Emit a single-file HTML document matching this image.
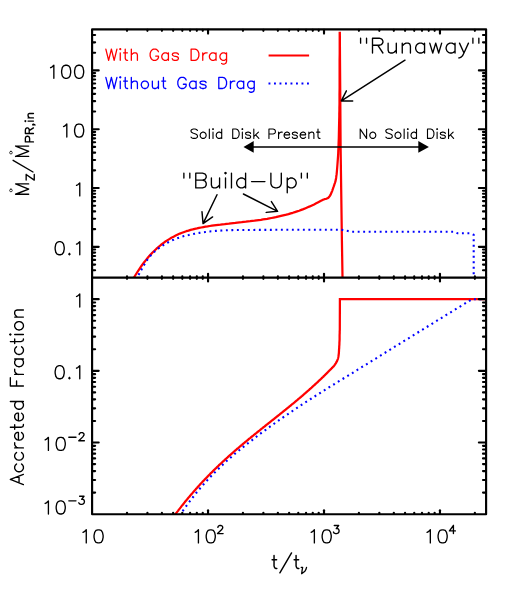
<!DOCTYPE html>
<html><head><meta charset="utf-8"><title>plot</title>
<style>html,body{margin:0;padding:0;background:#fff}svg{display:block}</style></head><body>
<svg width="511" height="591" viewBox="0 0 511 591">
<rect width="511" height="591" fill="#fff"/>
<defs>
<clipPath id="c1"><rect x="92.1" y="31.7" width="394.0" height="245.90000000000003"/></clipPath>
<clipPath id="c2"><rect x="92.1" y="277.6" width="394.0" height="236.60000000000002"/></clipPath>
</defs>
<g clip-path="url(#c1)" fill="none" stroke-linejoin="round">
<polyline points="133.1,279.1 135.2,275.5 137.4,272.0 139.5,268.8 141.6,265.7 143.8,262.8 145.9,260.1 148.0,257.5 150.1,255.1 152.3,252.8 154.4,250.7 156.5,248.7 158.7,246.8 160.8,245.0 162.9,243.4 165.0,241.8 167.2,240.4 169.3,239.1 171.4,237.8 173.6,236.7 175.7,235.6 177.8,234.6 179.9,233.6 182.1,232.8 184.2,232.0 186.3,231.2 188.5,230.6 190.6,229.9 192.7,229.4 194.8,228.8 197.0,228.4 199.1,227.9 201.2,227.5 203.4,227.1 205.5,226.7 207.6,226.4 209.8,226.0 211.9,225.7 214.0,225.4 216.1,225.1 218.3,224.8 220.4,224.6 222.5,224.3 224.7,224.1 226.8,223.8 228.9,223.6 231.0,223.3 233.2,223.1 235.3,222.9 237.4,222.6 239.6,222.4 241.7,222.2 243.8,221.9 245.9,221.7 248.1,221.4 250.2,221.2 252.3,220.9 254.5,220.7 256.6,220.4 258.7,220.1 260.9,219.8 263.0,219.4 265.1,219.1 267.2,218.8 269.4,218.4 271.5,218.0 273.6,217.6 275.8,217.2 277.9,216.7 280.0,216.2 282.1,215.7 284.3,215.2 286.4,214.7 288.5,214.1 290.7,213.4 292.8,212.8 294.9,212.1 297.1,211.4 299.2,210.7 301.3,209.9 303.4,209.1 305.6,208.2 307.7,207.3 309.8,206.4 311.9,205.4 314.1,204.4 316.2,203.3 318.3,202.2 320.5,201.0 323.1,199.7 323.8,199.5 324.5,199.2 325.4,199.0 326.1,198.8 326.7,198.6 327.1,198.4 327.4,198.3 327.7,198.2 327.9,198.1 328.1,197.9 328.4,197.7 328.7,197.4 329.0,197.0 329.3,196.6 329.6,196.2 329.9,195.8 330.2,195.3 330.5,194.8 330.7,194.3 331.0,193.8 331.2,193.2 331.5,192.7 331.7,192.1 331.9,191.5 332.2,190.9 332.4,190.3 332.6,189.6 332.9,189.0 333.1,188.3 333.3,187.6 333.6,186.9 333.8,186.2 334.1,185.5 334.3,184.7 334.6,183.9 334.9,183.1 335.1,182.3 335.4,181.5 335.6,180.5 335.9,179.4 336.1,178.0 336.3,176.3 336.6,174.4 336.8,172.3 337.0,170.0 337.2,167.5 337.4,165.0 337.6,162.4 337.8,159.7 338.0,156.9 338.2,153.9 338.3,150.6 338.5,147.0 338.6,142.9 338.8,138.4 338.9,133.6 339.0,128.8 339.1,124.2 339.2,120.0 339.3,116.5 339.3,113.6 339.4,110.8 339.4,107.9 339.5,104.4 339.5,100.0 339.5,94.4 339.6,87.9 339.6,80.8 339.6,73.5 339.6,66.4 339.6,60.0 339.7,53.8 339.7,47.6 339.7,41.5 339.7,36.0 339.7,31.4 339.8,28.0 340.0,60.0 340.3,100.0 340.6,147.0 341.2,190.0 341.9,240.0 342.5,277.0 342.6,280.0" stroke="#ff0000" stroke-width="2.25"/>
<polyline points="135.8,279.8 137.3,277.3 138.8,274.6 140.3,271.8 141.8,269.0 143.3,266.2 144.9,263.6 146.4,261.1 147.9,259.0 149.4,257.0 150.9,255.3 152.4,253.7 153.9,252.2 155.4,250.9 156.9,249.7 158.4,248.5 160.0,247.4 161.5,246.3 163.0,245.3 164.5,244.4 166.0,243.5 167.5,242.7 169.0,241.9 170.5,241.1 172.0,240.4 173.6,239.8 175.1,239.1 176.6,238.5 178.1,238.0 179.6,237.5 181.1,237.0 182.6,236.5 184.1,236.1 185.6,235.7 187.1,235.3 188.7,235.0 190.2,234.6 191.7,234.3 193.2,234.0 194.7,233.7 196.2,233.4 197.7,233.1 199.2,232.9 200.7,232.7 202.2,232.4 203.8,232.2 205.3,232.0 206.8,231.8 208.3,231.6 209.8,231.5 211.3,231.3 212.8,231.2 214.3,231.0 215.8,230.9 217.3,230.8 218.9,230.7 220.4,230.6 221.9,230.5 223.4,230.4 224.9,230.3 226.4,230.3 227.9,230.2 229.4,230.2 230.9,230.1 232.4,230.1 234.0,230.0 235.5,230.0 237.0,230.0 238.5,230.0 240.0,230.0 300.0,229.7 341.0,229.7 352.0,231.7 453.7,231.8 457.6,233.3 470.1,233.3 473.7,234.8 473.7,279.0" stroke="#0000ff" stroke-width="2.1" stroke-dasharray="1.9 3.6"/>
</g>
<g clip-path="url(#c2)" fill="none" stroke-linejoin="miter">
<polyline points="173.9,516.2 174.2,515.9 174.5,515.4 174.9,514.9 175.4,514.3 175.8,513.7 176.2,513.1 176.6,512.6 177.0,512.1 177.4,511.6 177.8,511.1 178.2,510.6 178.5,510.1 178.9,509.6 179.3,509.1 179.7,508.6 180.1,508.1 180.5,507.6 180.9,507.1 181.2,506.6 181.6,506.1 182.0,505.6 182.4,505.1 182.8,504.7 183.2,504.2 183.6,503.7 184.0,503.2 184.3,502.7 184.7,502.3 185.1,501.8 185.5,501.3 185.9,500.8 186.3,500.4 186.7,499.9 187.0,499.4 187.4,499.0 187.8,498.5 188.2,498.0 188.6,497.6 189.0,497.1 189.4,496.6 189.8,496.2 190.1,495.7 190.5,495.3 190.9,494.8 191.3,494.4 191.7,493.9 192.1,493.5 192.5,493.0 192.8,492.6 193.2,492.1 193.6,491.7 194.0,491.2 194.4,490.8 194.8,490.4 195.2,489.9 195.6,489.5 195.9,489.0 196.3,488.6 196.7,488.2 197.1,487.8 197.5,487.3 197.9,486.9 198.3,486.5 198.6,486.0 199.0,485.6 199.4,485.2 199.8,484.8 200.2,484.3 200.6,483.9 201.0,483.5 201.4,483.1 201.7,482.7 202.1,482.3 202.5,481.8 202.9,481.4 203.3,481.0 203.7,480.6 204.1,480.2 204.4,479.8 204.8,479.4 205.2,479.0 205.6,478.6 206.0,478.2 206.4,477.8 206.8,477.4 207.2,477.0 207.5,476.6 207.9,476.2 208.3,475.8 208.7,475.4 209.1,475.0 209.5,474.6 209.9,474.2 210.2,473.8 210.6,473.4 211.0,473.0 211.4,472.6 211.8,472.3 212.2,471.9 212.6,471.5 213.0,471.1 213.3,470.7 213.7,470.3 214.1,470.0 214.5,469.6 214.9,469.2 215.3,468.8 215.7,468.4 216.1,468.1 216.4,467.7 216.8,467.3 217.2,467.0 217.6,466.6 218.0,466.2 218.4,465.8 218.8,465.5 219.1,465.1 219.5,464.7 219.9,464.4 220.3,464.0 220.7,463.6 221.1,463.3 221.5,462.9 221.9,462.6 222.2,462.2 222.6,461.8 223.0,461.5 223.4,461.1 223.8,460.8 224.2,460.4 224.6,460.1 224.9,459.7 225.3,459.3 225.7,459.0 226.1,458.6 226.5,458.3 226.9,457.9 227.3,457.6 227.7,457.2 228.0,456.9 228.4,456.5 228.8,456.2 229.2,455.8 229.6,455.5 230.0,455.2 230.4,454.8 230.8,454.5 231.1,454.1 231.5,453.8 231.9,453.4 232.3,453.1 232.7,452.8 233.1,452.4 233.5,452.1 233.8,451.7 234.2,451.4 234.6,451.1 235.0,450.7 235.4,450.4 235.8,450.1 236.2,449.7 236.6,449.4 236.9,449.1 237.3,448.7 237.7,448.4 238.1,448.1 238.5,447.8 238.9,447.4 239.3,447.1 239.6,446.8 240.0,446.4 240.4,446.1 240.8,445.8 241.2,445.4 241.6,445.1 242.0,444.8 242.3,444.5 242.7,444.1 243.1,443.8 243.5,443.5 243.9,443.2 244.3,442.9 244.7,442.5 245.1,442.2 245.4,441.9 245.8,441.6 246.2,441.3 246.6,440.9 247.0,440.6 247.4,440.3 247.8,440.0 248.2,439.7 248.5,439.3 248.9,439.0 249.3,438.7 249.7,438.4 250.1,438.1 250.5,437.8 250.9,437.4 251.2,437.1 251.6,436.8 252.0,436.5 252.4,436.2 252.8,435.9 253.2,435.6 253.6,435.2 253.9,434.9 254.3,434.6 254.7,434.3 255.1,434.0 255.5,433.7 255.9,433.4 256.3,433.1 256.7,432.7 257.0,432.4 257.4,432.1 257.8,431.8 258.2,431.5 258.6,431.2 259.0,430.9 259.4,430.6 259.8,430.3 260.1,430.0 260.5,429.6 260.9,429.3 261.3,429.0 261.7,428.7 262.1,428.4 262.5,428.1 262.8,427.8 263.2,427.5 263.6,427.2 264.0,426.9 264.4,426.6 264.8,426.3 265.2,425.9 265.5,425.6 265.9,425.3 266.3,425.0 266.7,424.7 267.1,424.4 267.5,424.1 267.9,423.8 268.3,423.5 268.6,423.2 269.0,422.9 269.4,422.6 269.8,422.3 270.2,422.0 270.6,421.6 271.0,421.3 271.4,421.0 271.7,420.7 272.1,420.4 272.5,420.1 272.9,419.8 273.3,419.5 273.7,419.2 274.1,418.9 274.4,418.6 274.8,418.3 275.2,418.0 275.6,417.6 276.0,417.3 276.4,417.0 276.8,416.7 277.1,416.4 277.5,416.1 277.9,415.8 278.3,415.5 278.7,415.2 279.1,414.9 279.5,414.6 279.9,414.3 280.2,413.9 280.6,413.6 281.0,413.3 281.4,413.0 281.8,412.7 282.2,412.4 282.6,412.1 282.9,411.8 283.3,411.5 283.7,411.1 284.1,410.8 284.5,410.5 284.9,410.2 285.3,409.9 285.7,409.6 286.0,409.3 286.4,409.0 286.8,408.6 287.2,408.3 287.6,408.0 288.0,407.7 288.4,407.4 288.8,407.1 289.1,406.8 289.5,406.4 289.9,406.1 290.3,405.8 290.7,405.5 291.1,405.2 291.5,404.8 291.8,404.5 292.2,404.2 292.6,403.9 293.0,403.6 293.4,403.3 293.8,402.9 294.2,402.6 294.6,402.3 294.9,402.0 295.3,401.6 295.7,401.3 296.1,401.0 296.5,400.7 296.9,400.4 297.3,400.0 297.7,399.7 298.0,399.4 298.4,399.0 298.8,398.7 299.2,398.4 299.6,398.1 300.0,397.7 300.4,397.4 300.7,397.1 301.1,396.8 301.5,396.4 301.9,396.1 302.3,395.8 302.7,395.4 303.1,395.1 303.5,394.8 303.8,394.4 304.2,394.1 304.6,393.7 305.0,393.4 305.4,393.1 305.8,392.7 306.2,392.4 306.5,392.1 306.9,391.7 307.3,391.4 307.7,391.0 308.1,390.7 308.5,390.4 308.9,390.0 309.3,389.7 309.6,389.3 310.0,389.0 310.4,388.6 310.8,388.3 311.2,387.9 311.6,387.6 312.0,387.2 312.3,386.9 312.7,386.5 313.1,386.2 313.5,385.8 313.9,385.5 314.3,385.1 314.7,384.8 315.1,384.4 315.4,384.1 315.8,383.7 316.2,383.4 316.6,383.0 317.0,382.6 317.4,382.3 317.8,381.9 318.1,381.6 318.5,381.2 318.9,380.8 319.3,380.5 319.7,380.1 320.1,379.7 320.5,379.4 320.9,379.0 321.2,378.6 321.6,378.3 322.0,377.9 322.4,377.5 322.8,377.1 323.2,376.8 323.6,376.4 323.9,376.0 324.3,375.6 324.7,375.3 325.1,374.9 325.5,374.5 325.9,374.1 326.3,373.7 326.7,373.4 327.0,373.0 327.4,372.6 327.8,372.2 328.2,371.8 328.6,371.4 329.0,371.0 329.4,370.6 329.7,370.2 330.1,369.9 330.5,369.5 330.9,369.1 331.3,368.7 331.7,368.3 332.1,367.9 332.4,367.5 332.8,367.2 333.2,366.8 333.6,366.4 334.0,365.9 334.4,365.3 334.9,364.6 335.4,363.8 335.9,363.1 336.3,362.4 336.6,361.7 337.0,361.1 337.2,360.6 337.4,360.1 337.6,359.6 337.8,359.1 338.0,358.5 338.1,357.9 338.3,357.3 338.4,356.7 338.5,356.0 338.6,355.3 338.7,354.5 338.8,353.7 338.9,352.9 338.9,352.0 339.0,351.1 339.0,350.1 339.1,349.0 339.2,347.9 339.2,346.8 339.3,345.6 339.4,344.3 339.4,342.9 339.5,341.4 339.6,339.6 339.6,337.5 339.6,335.2 339.7,333.1 339.7,331.3 339.8,330.0 339.9,299.2 486.3,299.2" stroke="#ff0000" stroke-width="2.25"/>
<polyline points="179.5,515.6 182.3,511.5 185.1,507.6 187.9,503.8 190.7,500.1 193.5,496.5 196.2,493.0 199.0,489.6 201.8,486.4 204.6,483.2 207.4,480.1 210.2,477.1 213.0,474.2 215.8,471.4 218.6,468.7 221.4,466.0 224.2,463.4 226.9,460.8 229.7,458.4 232.5,455.9 235.3,453.5 238.1,451.2 240.9,448.9 243.7,446.6 246.5,444.4 249.3,442.2 252.1,440.1 254.9,437.9 257.6,435.8 260.4,433.7 263.2,431.6 266.0,429.6 268.8,427.5 271.6,425.5 274.4,423.5 277.2,421.5 280.0,419.6 282.8,417.6 285.6,415.7 288.4,413.8 291.1,411.9 293.9,410.0 296.7,408.1 299.5,406.3 302.3,404.4 305.1,402.6 307.9,400.8 310.7,399.0 313.5,397.2 316.3,395.4 319.1,393.6 321.9,391.9 324.6,390.1 327.4,388.4 330.2,386.6 333.0,384.9 335.8,383.2 338.6,381.4 341.4,379.7 344.2,378.0 347.0,376.3 349.8,374.6 352.6,372.9 355.3,371.1 358.1,369.4 360.9,367.7 363.7,366.0 366.5,364.3 369.3,362.6 392.2,348.3 471.8,299.3 486.3,299.3" stroke="#0000ff" stroke-width="2.1" stroke-dasharray="1.9 3.6"/>
</g>
<line x1="268.6" y1="55.5" x2="309.1" y2="55.5" stroke="#ff0000" stroke-width="2.2"/>
<line x1="268.5" y1="83.5" x2="309.4" y2="83.5" stroke="#0000ff" stroke-width="2.2" stroke-dasharray="1.9 3.6"/>
<g stroke="#000" stroke-width="2.15" stroke-linecap="round" fill="none">
<rect x="92.1" y="29.3" width="394.0" height="484.90000000000003" stroke-linejoin="round"/>
<line x1="92.1" y1="277.6" x2="486.1" y2="277.6"/>
<line x1="127.01" y1="29.70" x2="127.01" y2="30.80"/>
<line x1="147.42" y1="29.70" x2="147.42" y2="30.80"/>
<line x1="161.91" y1="29.70" x2="161.91" y2="30.80"/>
<line x1="173.15" y1="29.70" x2="173.15" y2="30.80"/>
<line x1="182.33" y1="29.70" x2="182.33" y2="30.80"/>
<line x1="190.09" y1="29.70" x2="190.09" y2="30.80"/>
<line x1="196.82" y1="29.70" x2="196.82" y2="30.80"/>
<line x1="202.75" y1="29.70" x2="202.75" y2="30.80"/>
<line x1="208.05" y1="29.70" x2="208.05" y2="33.60"/>
<line x1="242.96" y1="29.70" x2="242.96" y2="30.80"/>
<line x1="263.38" y1="29.70" x2="263.38" y2="30.80"/>
<line x1="277.86" y1="29.70" x2="277.86" y2="30.80"/>
<line x1="289.10" y1="29.70" x2="289.10" y2="30.80"/>
<line x1="298.28" y1="29.70" x2="298.28" y2="30.80"/>
<line x1="306.04" y1="29.70" x2="306.04" y2="30.80"/>
<line x1="312.77" y1="29.70" x2="312.77" y2="30.80"/>
<line x1="318.70" y1="29.70" x2="318.70" y2="30.80"/>
<line x1="324.01" y1="29.70" x2="324.01" y2="33.60"/>
<line x1="358.91" y1="29.70" x2="358.91" y2="30.80"/>
<line x1="379.33" y1="29.70" x2="379.33" y2="30.80"/>
<line x1="393.82" y1="29.70" x2="393.82" y2="30.80"/>
<line x1="405.05" y1="29.70" x2="405.05" y2="30.80"/>
<line x1="414.23" y1="29.70" x2="414.23" y2="30.80"/>
<line x1="422.00" y1="29.70" x2="422.00" y2="30.80"/>
<line x1="428.72" y1="29.70" x2="428.72" y2="30.80"/>
<line x1="434.65" y1="29.70" x2="434.65" y2="30.80"/>
<line x1="439.96" y1="29.70" x2="439.96" y2="33.60"/>
<line x1="474.86" y1="29.70" x2="474.86" y2="30.80"/>
<line x1="127.01" y1="277.20" x2="127.01" y2="276.40"/>
<line x1="147.42" y1="277.20" x2="147.42" y2="276.40"/>
<line x1="161.91" y1="277.20" x2="161.91" y2="276.40"/>
<line x1="173.15" y1="277.20" x2="173.15" y2="276.40"/>
<line x1="182.33" y1="277.20" x2="182.33" y2="276.40"/>
<line x1="190.09" y1="277.20" x2="190.09" y2="276.40"/>
<line x1="196.82" y1="277.20" x2="196.82" y2="276.40"/>
<line x1="202.75" y1="277.20" x2="202.75" y2="276.40"/>
<line x1="208.05" y1="277.20" x2="208.05" y2="273.80"/>
<line x1="242.96" y1="277.20" x2="242.96" y2="276.40"/>
<line x1="263.38" y1="277.20" x2="263.38" y2="276.40"/>
<line x1="277.86" y1="277.20" x2="277.86" y2="276.40"/>
<line x1="289.10" y1="277.20" x2="289.10" y2="276.40"/>
<line x1="298.28" y1="277.20" x2="298.28" y2="276.40"/>
<line x1="306.04" y1="277.20" x2="306.04" y2="276.40"/>
<line x1="312.77" y1="277.20" x2="312.77" y2="276.40"/>
<line x1="318.70" y1="277.20" x2="318.70" y2="276.40"/>
<line x1="324.01" y1="277.20" x2="324.01" y2="273.80"/>
<line x1="358.91" y1="277.20" x2="358.91" y2="276.40"/>
<line x1="379.33" y1="277.20" x2="379.33" y2="276.40"/>
<line x1="393.82" y1="277.20" x2="393.82" y2="276.40"/>
<line x1="405.05" y1="277.20" x2="405.05" y2="276.40"/>
<line x1="414.23" y1="277.20" x2="414.23" y2="276.40"/>
<line x1="422.00" y1="277.20" x2="422.00" y2="276.40"/>
<line x1="428.72" y1="277.20" x2="428.72" y2="276.40"/>
<line x1="434.65" y1="277.20" x2="434.65" y2="276.40"/>
<line x1="439.96" y1="277.20" x2="439.96" y2="273.80"/>
<line x1="474.86" y1="277.20" x2="474.86" y2="276.40"/>
<line x1="127.01" y1="278.00" x2="127.01" y2="278.80"/>
<line x1="147.42" y1="278.00" x2="147.42" y2="278.80"/>
<line x1="161.91" y1="278.00" x2="161.91" y2="278.80"/>
<line x1="173.15" y1="278.00" x2="173.15" y2="278.80"/>
<line x1="182.33" y1="278.00" x2="182.33" y2="278.80"/>
<line x1="190.09" y1="278.00" x2="190.09" y2="278.80"/>
<line x1="196.82" y1="278.00" x2="196.82" y2="278.80"/>
<line x1="202.75" y1="278.00" x2="202.75" y2="278.80"/>
<line x1="208.05" y1="278.00" x2="208.05" y2="281.40"/>
<line x1="242.96" y1="278.00" x2="242.96" y2="278.80"/>
<line x1="263.38" y1="278.00" x2="263.38" y2="278.80"/>
<line x1="277.86" y1="278.00" x2="277.86" y2="278.80"/>
<line x1="289.10" y1="278.00" x2="289.10" y2="278.80"/>
<line x1="298.28" y1="278.00" x2="298.28" y2="278.80"/>
<line x1="306.04" y1="278.00" x2="306.04" y2="278.80"/>
<line x1="312.77" y1="278.00" x2="312.77" y2="278.80"/>
<line x1="318.70" y1="278.00" x2="318.70" y2="278.80"/>
<line x1="324.01" y1="278.00" x2="324.01" y2="281.40"/>
<line x1="358.91" y1="278.00" x2="358.91" y2="278.80"/>
<line x1="379.33" y1="278.00" x2="379.33" y2="278.80"/>
<line x1="393.82" y1="278.00" x2="393.82" y2="278.80"/>
<line x1="405.05" y1="278.00" x2="405.05" y2="278.80"/>
<line x1="414.23" y1="278.00" x2="414.23" y2="278.80"/>
<line x1="422.00" y1="278.00" x2="422.00" y2="278.80"/>
<line x1="428.72" y1="278.00" x2="428.72" y2="278.80"/>
<line x1="434.65" y1="278.00" x2="434.65" y2="278.80"/>
<line x1="439.96" y1="278.00" x2="439.96" y2="281.40"/>
<line x1="474.86" y1="278.00" x2="474.86" y2="278.80"/>
<line x1="127.01" y1="513.80" x2="127.01" y2="512.80"/>
<line x1="147.42" y1="513.80" x2="147.42" y2="512.80"/>
<line x1="161.91" y1="513.80" x2="161.91" y2="512.80"/>
<line x1="173.15" y1="513.80" x2="173.15" y2="512.80"/>
<line x1="182.33" y1="513.80" x2="182.33" y2="512.80"/>
<line x1="190.09" y1="513.80" x2="190.09" y2="512.80"/>
<line x1="196.82" y1="513.80" x2="196.82" y2="512.80"/>
<line x1="202.75" y1="513.80" x2="202.75" y2="512.80"/>
<line x1="208.05" y1="513.80" x2="208.05" y2="510.30"/>
<line x1="242.96" y1="513.80" x2="242.96" y2="512.80"/>
<line x1="263.38" y1="513.80" x2="263.38" y2="512.80"/>
<line x1="277.86" y1="513.80" x2="277.86" y2="512.80"/>
<line x1="289.10" y1="513.80" x2="289.10" y2="512.80"/>
<line x1="298.28" y1="513.80" x2="298.28" y2="512.80"/>
<line x1="306.04" y1="513.80" x2="306.04" y2="512.80"/>
<line x1="312.77" y1="513.80" x2="312.77" y2="512.80"/>
<line x1="318.70" y1="513.80" x2="318.70" y2="512.80"/>
<line x1="324.01" y1="513.80" x2="324.01" y2="510.30"/>
<line x1="358.91" y1="513.80" x2="358.91" y2="512.80"/>
<line x1="379.33" y1="513.80" x2="379.33" y2="512.80"/>
<line x1="393.82" y1="513.80" x2="393.82" y2="512.80"/>
<line x1="405.05" y1="513.80" x2="405.05" y2="512.80"/>
<line x1="414.23" y1="513.80" x2="414.23" y2="512.80"/>
<line x1="422.00" y1="513.80" x2="422.00" y2="512.80"/>
<line x1="428.72" y1="513.80" x2="428.72" y2="512.80"/>
<line x1="434.65" y1="513.80" x2="434.65" y2="512.80"/>
<line x1="439.96" y1="513.80" x2="439.96" y2="510.30"/>
<line x1="474.86" y1="513.80" x2="474.86" y2="512.80"/>
<line x1="92.5" y1="270.25" x2="95.1" y2="270.25"/>
<line x1="485.70000000000005" y1="270.25" x2="483.0" y2="270.25"/>
<line x1="92.5" y1="264.55" x2="95.1" y2="264.55"/>
<line x1="485.70000000000005" y1="264.55" x2="483.0" y2="264.55"/>
<line x1="92.5" y1="259.90" x2="95.1" y2="259.90"/>
<line x1="485.70000000000005" y1="259.90" x2="483.0" y2="259.90"/>
<line x1="92.5" y1="255.96" x2="95.1" y2="255.96"/>
<line x1="485.70000000000005" y1="255.96" x2="483.0" y2="255.96"/>
<line x1="92.5" y1="252.55" x2="95.1" y2="252.55"/>
<line x1="485.70000000000005" y1="252.55" x2="483.0" y2="252.55"/>
<line x1="92.5" y1="249.54" x2="95.1" y2="249.54"/>
<line x1="485.70000000000005" y1="249.54" x2="483.0" y2="249.54"/>
<line x1="92.5" y1="246.85" x2="98.69999999999999" y2="246.85"/>
<line x1="485.70000000000005" y1="246.85" x2="478.9" y2="246.85"/>
<line x1="92.5" y1="229.14" x2="95.1" y2="229.14"/>
<line x1="485.70000000000005" y1="229.14" x2="483.0" y2="229.14"/>
<line x1="92.5" y1="218.79" x2="95.1" y2="218.79"/>
<line x1="485.70000000000005" y1="218.79" x2="483.0" y2="218.79"/>
<line x1="92.5" y1="211.44" x2="95.1" y2="211.44"/>
<line x1="485.70000000000005" y1="211.44" x2="483.0" y2="211.44"/>
<line x1="92.5" y1="205.74" x2="95.1" y2="205.74"/>
<line x1="485.70000000000005" y1="205.74" x2="483.0" y2="205.74"/>
<line x1="92.5" y1="201.08" x2="95.1" y2="201.08"/>
<line x1="485.70000000000005" y1="201.08" x2="483.0" y2="201.08"/>
<line x1="92.5" y1="197.15" x2="95.1" y2="197.15"/>
<line x1="485.70000000000005" y1="197.15" x2="483.0" y2="197.15"/>
<line x1="92.5" y1="193.73" x2="95.1" y2="193.73"/>
<line x1="485.70000000000005" y1="193.73" x2="483.0" y2="193.73"/>
<line x1="92.5" y1="190.73" x2="95.1" y2="190.73"/>
<line x1="485.70000000000005" y1="190.73" x2="483.0" y2="190.73"/>
<line x1="92.5" y1="188.03" x2="98.69999999999999" y2="188.03"/>
<line x1="485.70000000000005" y1="188.03" x2="478.9" y2="188.03"/>
<line x1="92.5" y1="170.33" x2="95.1" y2="170.33"/>
<line x1="485.70000000000005" y1="170.33" x2="483.0" y2="170.33"/>
<line x1="92.5" y1="159.97" x2="95.1" y2="159.97"/>
<line x1="485.70000000000005" y1="159.97" x2="483.0" y2="159.97"/>
<line x1="92.5" y1="152.63" x2="95.1" y2="152.63"/>
<line x1="485.70000000000005" y1="152.63" x2="483.0" y2="152.63"/>
<line x1="92.5" y1="146.93" x2="95.1" y2="146.93"/>
<line x1="485.70000000000005" y1="146.93" x2="483.0" y2="146.93"/>
<line x1="92.5" y1="142.27" x2="95.1" y2="142.27"/>
<line x1="485.70000000000005" y1="142.27" x2="483.0" y2="142.27"/>
<line x1="92.5" y1="138.33" x2="95.1" y2="138.33"/>
<line x1="485.70000000000005" y1="138.33" x2="483.0" y2="138.33"/>
<line x1="92.5" y1="134.92" x2="95.1" y2="134.92"/>
<line x1="485.70000000000005" y1="134.92" x2="483.0" y2="134.92"/>
<line x1="92.5" y1="131.91" x2="95.1" y2="131.91"/>
<line x1="485.70000000000005" y1="131.91" x2="483.0" y2="131.91"/>
<line x1="92.5" y1="129.22" x2="98.69999999999999" y2="129.22"/>
<line x1="485.70000000000005" y1="129.22" x2="478.9" y2="129.22"/>
<line x1="92.5" y1="111.52" x2="95.1" y2="111.52"/>
<line x1="485.70000000000005" y1="111.52" x2="483.0" y2="111.52"/>
<line x1="92.5" y1="101.16" x2="95.1" y2="101.16"/>
<line x1="485.70000000000005" y1="101.16" x2="483.0" y2="101.16"/>
<line x1="92.5" y1="93.81" x2="95.1" y2="93.81"/>
<line x1="485.70000000000005" y1="93.81" x2="483.0" y2="93.81"/>
<line x1="92.5" y1="88.11" x2="95.1" y2="88.11"/>
<line x1="485.70000000000005" y1="88.11" x2="483.0" y2="88.11"/>
<line x1="92.5" y1="83.46" x2="95.1" y2="83.46"/>
<line x1="485.70000000000005" y1="83.46" x2="483.0" y2="83.46"/>
<line x1="92.5" y1="79.52" x2="95.1" y2="79.52"/>
<line x1="485.70000000000005" y1="79.52" x2="483.0" y2="79.52"/>
<line x1="92.5" y1="76.11" x2="95.1" y2="76.11"/>
<line x1="485.70000000000005" y1="76.11" x2="483.0" y2="76.11"/>
<line x1="92.5" y1="73.10" x2="95.1" y2="73.10"/>
<line x1="485.70000000000005" y1="73.10" x2="483.0" y2="73.10"/>
<line x1="92.5" y1="70.41" x2="98.69999999999999" y2="70.41"/>
<line x1="485.70000000000005" y1="70.41" x2="478.9" y2="70.41"/>
<line x1="92.5" y1="52.70" x2="95.1" y2="52.70"/>
<line x1="485.70000000000005" y1="52.70" x2="483.0" y2="52.70"/>
<line x1="92.5" y1="42.35" x2="95.1" y2="42.35"/>
<line x1="485.70000000000005" y1="42.35" x2="483.0" y2="42.35"/>
<line x1="92.5" y1="35.00" x2="95.1" y2="35.00"/>
<line x1="485.70000000000005" y1="35.00" x2="483.0" y2="35.00"/>
<line x1="92.5" y1="492.62" x2="95.1" y2="492.62"/>
<line x1="485.70000000000005" y1="492.62" x2="483.0" y2="492.62"/>
<line x1="92.5" y1="480.00" x2="95.1" y2="480.00"/>
<line x1="485.70000000000005" y1="480.00" x2="483.0" y2="480.00"/>
<line x1="92.5" y1="471.05" x2="95.1" y2="471.05"/>
<line x1="485.70000000000005" y1="471.05" x2="483.0" y2="471.05"/>
<line x1="92.5" y1="464.10" x2="95.1" y2="464.10"/>
<line x1="485.70000000000005" y1="464.10" x2="483.0" y2="464.10"/>
<line x1="92.5" y1="458.43" x2="95.1" y2="458.43"/>
<line x1="485.70000000000005" y1="458.43" x2="483.0" y2="458.43"/>
<line x1="92.5" y1="453.63" x2="95.1" y2="453.63"/>
<line x1="485.70000000000005" y1="453.63" x2="483.0" y2="453.63"/>
<line x1="92.5" y1="449.47" x2="95.1" y2="449.47"/>
<line x1="485.70000000000005" y1="449.47" x2="483.0" y2="449.47"/>
<line x1="92.5" y1="445.81" x2="95.1" y2="445.81"/>
<line x1="485.70000000000005" y1="445.81" x2="483.0" y2="445.81"/>
<line x1="92.5" y1="442.53" x2="98.69999999999999" y2="442.53"/>
<line x1="485.70000000000005" y1="442.53" x2="478.9" y2="442.53"/>
<line x1="92.5" y1="420.95" x2="95.1" y2="420.95"/>
<line x1="485.70000000000005" y1="420.95" x2="483.0" y2="420.95"/>
<line x1="92.5" y1="408.33" x2="95.1" y2="408.33"/>
<line x1="485.70000000000005" y1="408.33" x2="483.0" y2="408.33"/>
<line x1="92.5" y1="399.37" x2="95.1" y2="399.37"/>
<line x1="485.70000000000005" y1="399.37" x2="483.0" y2="399.37"/>
<line x1="92.5" y1="392.43" x2="95.1" y2="392.43"/>
<line x1="485.70000000000005" y1="392.43" x2="483.0" y2="392.43"/>
<line x1="92.5" y1="386.75" x2="95.1" y2="386.75"/>
<line x1="485.70000000000005" y1="386.75" x2="483.0" y2="386.75"/>
<line x1="92.5" y1="381.95" x2="95.1" y2="381.95"/>
<line x1="485.70000000000005" y1="381.95" x2="483.0" y2="381.95"/>
<line x1="92.5" y1="377.80" x2="95.1" y2="377.80"/>
<line x1="485.70000000000005" y1="377.80" x2="483.0" y2="377.80"/>
<line x1="92.5" y1="374.13" x2="95.1" y2="374.13"/>
<line x1="485.70000000000005" y1="374.13" x2="483.0" y2="374.13"/>
<line x1="92.5" y1="370.85" x2="98.69999999999999" y2="370.85"/>
<line x1="485.70000000000005" y1="370.85" x2="478.9" y2="370.85"/>
<line x1="92.5" y1="349.27" x2="95.1" y2="349.27"/>
<line x1="485.70000000000005" y1="349.27" x2="483.0" y2="349.27"/>
<line x1="92.5" y1="336.65" x2="95.1" y2="336.65"/>
<line x1="485.70000000000005" y1="336.65" x2="483.0" y2="336.65"/>
<line x1="92.5" y1="327.70" x2="95.1" y2="327.70"/>
<line x1="485.70000000000005" y1="327.70" x2="483.0" y2="327.70"/>
<line x1="92.5" y1="320.75" x2="95.1" y2="320.75"/>
<line x1="485.70000000000005" y1="320.75" x2="483.0" y2="320.75"/>
<line x1="92.5" y1="315.08" x2="95.1" y2="315.08"/>
<line x1="485.70000000000005" y1="315.08" x2="483.0" y2="315.08"/>
<line x1="92.5" y1="310.28" x2="95.1" y2="310.28"/>
<line x1="485.70000000000005" y1="310.28" x2="483.0" y2="310.28"/>
<line x1="92.5" y1="306.12" x2="95.1" y2="306.12"/>
<line x1="485.70000000000005" y1="306.12" x2="483.0" y2="306.12"/>
<line x1="92.5" y1="302.46" x2="95.1" y2="302.46"/>
<line x1="485.70000000000005" y1="302.46" x2="483.0" y2="302.46"/>
<line x1="92.5" y1="299.18" x2="98.69999999999999" y2="299.18"/>
<line x1="485.70000000000005" y1="299.18" x2="478.9" y2="299.18"/>
</g>
<g stroke="#000" stroke-width="1.45" fill="none" stroke-linecap="round" stroke-linejoin="round">
<path d="M405,60.2 L341.3,100.95 M346.4,90.8 L341.3,100.95 L352.7,100.95"/>
<path d="M217,194.7 L203.05,223.6 M202.0,211.7 L203.05,223.6 L212.6,216.9"/>
<path d="M243.4,194 L277.6,211.3 M271.4,201.6 L277.6,211.3 L266.2,212.4"/>
<path d="M250,146.9 L422,146.9"/>
</g>
<path d="M243.5,146.9 L253.7,141.1 L253.7,152.8 Z" fill="#000"/>
<path d="M428.9,146.9 L418.3,141.0 L418.3,152.8 Z" fill="#000"/>
<path d="M50.61,67.73 L51.90,67.11 L53.85,65.25 L53.85,78.31 M65.51,65.25 L63.57,65.87 L62.27,67.73 L61.62,70.84 L61.62,72.71 L62.27,75.82 L63.57,77.69 L65.51,78.31 L66.81,78.31 L68.75,77.69 L70.05,75.82 L70.70,72.71 L70.70,70.84 L70.05,67.73 L68.75,65.87 L66.81,65.25 L65.51,65.25 M78.47,65.25 L76.53,65.87 L75.23,67.73 L74.58,70.84 L74.58,72.71 L75.23,75.82 L76.53,77.69 L78.47,78.31 L79.77,78.31 L81.71,77.69 L83.01,75.82 L83.66,72.71 L83.66,70.84 L83.01,67.73 L81.71,65.87 L79.77,65.25 L78.47,65.25 M63.57,126.55 L64.86,125.93 L66.81,124.06 L66.81,137.12 M78.47,124.06 L76.53,124.68 L75.23,126.55 L74.58,129.66 L74.58,131.52 L75.23,134.63 L76.53,136.50 L78.47,137.12 L79.77,137.12 L81.71,136.50 L83.01,134.63 L83.66,131.52 L83.66,129.66 L83.01,126.55 L81.71,124.68 L79.77,124.06 L78.47,124.06 M76.53,185.36 L77.82,184.74 L79.77,182.87 L79.77,195.93 M59.03,241.69 L57.09,242.31 L55.79,244.17 L55.14,247.28 L55.14,249.15 L55.79,252.26 L57.09,254.13 L59.03,254.75 L60.33,254.75 L62.27,254.13 L63.57,252.26 L64.22,249.15 L64.22,247.28 L63.57,244.17 L62.27,242.31 L60.33,241.69 L59.03,241.69 M69.40,253.50 L68.75,254.13 L69.40,254.75 L70.05,254.13 L69.40,253.50 M76.53,244.17 L77.82,243.55 L79.77,241.69 L79.77,254.75 M76.53,296.50 L77.82,295.88 L79.77,294.01 L79.77,307.08 M59.03,365.69 L57.09,366.31 L55.79,368.18 L55.14,371.29 L55.14,373.15 L55.79,376.26 L57.09,378.13 L59.03,378.75 L60.33,378.75 L62.27,378.13 L63.57,376.26 L64.22,373.15 L64.22,371.29 L63.57,368.18 L62.27,366.31 L60.33,365.69 L59.03,365.69 M69.40,377.51 L68.75,378.13 L69.40,378.75 L70.05,378.13 L69.40,377.51 M76.53,368.18 L77.82,367.55 L79.77,365.69 L79.77,378.75 M45.17,439.85 L46.46,439.23 L48.41,437.36 L48.41,450.43 M60.07,437.36 L58.13,437.99 L56.83,439.85 L56.18,442.96 L56.18,444.83 L56.83,447.94 L58.13,449.80 L60.07,450.43 L61.37,450.43 L63.31,449.80 L64.61,447.94 L65.26,444.83 L65.26,442.96 L64.61,439.85 L63.31,437.99 L61.37,437.36 L60.07,437.36 M68.80,437.26 L76.00,437.26 M79.20,434.57 L79.20,434.18 L79.60,433.41 L80.00,433.03 L80.80,432.64 L82.40,432.64 L83.20,433.03 L83.60,433.41 L84.00,434.18 L84.00,434.95 L83.60,435.72 L82.80,436.88 L78.80,440.73 L84.40,440.73 M45.17,503.43 L46.46,502.80 L48.41,500.94 L48.41,514.00 M60.07,500.94 L58.13,501.56 L56.83,503.43 L56.18,506.54 L56.18,508.40 L56.83,511.51 L58.13,513.38 L60.07,514.00 L61.37,514.00 L63.31,513.38 L64.61,511.51 L65.26,508.40 L65.26,506.54 L64.61,503.43 L63.31,501.56 L61.37,500.94 L60.07,500.94 M68.80,500.84 L76.00,500.84 M79.60,496.22 L84.00,496.22 L81.60,499.30 L82.80,499.30 L83.60,499.68 L84.00,500.06 L84.40,501.22 L84.40,501.99 L84.00,503.15 L83.20,503.92 L82.00,504.30 L80.80,504.30 L79.60,503.92 L79.20,503.53 L78.80,502.76 M83.03,532.33 L84.32,531.70 L86.27,529.84 L86.27,542.90 M97.93,529.84 L95.99,530.46 L94.69,532.33 L94.04,535.44 L94.04,537.30 L94.69,540.41 L95.99,542.28 L97.93,542.90 L99.23,542.90 L101.17,542.28 L102.47,540.41 L103.12,537.30 L103.12,535.44 L102.47,532.33 L101.17,530.46 L99.23,529.84 L97.93,529.84 M195.18,532.33 L196.48,531.70 L198.42,529.84 L198.42,542.90 M210.08,529.84 L208.14,530.46 L206.84,532.33 L206.20,535.44 L206.20,537.30 L206.84,540.41 L208.14,542.28 L210.08,542.90 L211.38,542.90 L213.32,542.28 L214.62,540.41 L215.27,537.30 L215.27,535.44 L214.62,532.33 L213.32,530.46 L211.38,529.84 L210.08,529.84 M217.91,527.44 L217.91,527.06 L218.31,526.28 L218.71,525.90 L219.51,525.51 L221.11,525.51 L221.91,525.90 L222.31,526.28 L222.71,527.06 L222.71,527.83 L222.31,528.60 L221.51,529.75 L217.51,533.60 L223.11,533.60 M311.13,532.33 L312.43,531.70 L314.37,529.84 L314.37,542.90 M326.04,529.84 L324.09,530.46 L322.80,532.33 L322.15,535.44 L322.15,537.30 L322.80,540.41 L324.09,542.28 L326.04,542.90 L327.33,542.90 L329.28,542.28 L330.57,540.41 L331.22,537.30 L331.22,535.44 L330.57,532.33 L329.28,530.46 L327.33,529.84 L326.04,529.84 M334.27,525.51 L338.67,525.51 L336.27,528.60 L337.47,528.60 L338.27,528.98 L338.67,529.37 L339.07,530.52 L339.07,531.29 L338.67,532.45 L337.87,533.22 L336.67,533.60 L335.47,533.60 L334.27,533.22 L333.87,532.83 L333.47,532.06 M427.09,532.33 L428.38,531.70 L430.33,529.84 L430.33,542.90 M441.99,529.84 L440.05,530.46 L438.75,532.33 L438.10,535.44 L438.10,537.30 L438.75,540.41 L440.05,542.28 L441.99,542.90 L443.29,542.90 L445.23,542.28 L446.53,540.41 L447.17,537.30 L447.17,535.44 L446.53,532.33 L445.23,530.46 L443.29,529.84 L441.99,529.84 M453.42,525.51 L449.42,530.90 L455.42,530.90 M453.42,525.51 L453.42,533.60 M360.60,38.20 L360.60,43.13 M366.55,38.20 L366.55,43.13 M372.50,38.20 L372.50,53.00 M372.50,38.20 L379.20,38.20 L381.43,38.90 L382.17,39.61 L382.91,41.02 L382.91,42.42 L382.17,43.84 L381.43,44.54 L379.20,45.24 L372.50,45.24 M377.71,45.24 L382.91,53.00 M388.12,43.13 L388.12,50.18 L388.86,52.30 L390.35,53.00 L392.58,53.00 L394.07,52.30 L396.30,50.18 M396.30,43.13 L396.30,53.00 M402.25,43.13 L402.25,53.00 M402.25,45.95 L404.48,43.84 L405.97,43.13 L408.20,43.13 L409.69,43.84 L410.43,45.95 L410.43,53.00 M424.56,43.13 L424.56,53.00 M424.56,45.24 L423.07,43.84 L421.59,43.13 L419.35,43.13 L417.87,43.84 L416.38,45.24 L415.64,47.36 L415.64,48.77 L416.38,50.88 L417.87,52.30 L419.35,53.00 L421.59,53.00 L423.07,52.30 L424.56,50.88 M429.77,43.13 L432.74,53.00 M435.72,43.13 L432.74,53.00 M435.72,43.13 L438.69,53.00 M441.67,43.13 L438.69,53.00 M455.05,43.13 L455.05,53.00 M455.05,45.24 L453.57,43.84 L452.08,43.13 L449.85,43.13 L448.36,43.84 L446.87,45.24 L446.13,47.36 L446.13,48.77 L446.87,50.88 L448.36,52.30 L449.85,53.00 L452.08,53.00 L453.57,52.30 L455.05,50.88 M459.51,43.13 L463.98,53.00 M468.44,43.13 L463.98,53.00 L462.49,55.82 L461.00,57.23 L459.51,57.94 L458.77,57.94 M472.90,38.20 L472.90,43.13 M478.85,38.20 L478.85,43.13 M183.88,173.09 L183.88,178.03 M189.82,173.09 L189.82,178.03 M195.77,173.09 L195.77,187.90 M195.77,173.09 L202.47,173.09 L204.70,173.80 L205.44,174.50 L206.19,175.92 L206.19,177.33 L205.44,178.74 L204.70,179.44 L202.47,180.15 M195.77,180.15 L202.47,180.15 L204.70,180.85 L205.44,181.56 L206.19,182.97 L206.19,185.08 L205.44,186.49 L204.70,187.19 L202.47,187.90 L195.77,187.90 M211.39,178.03 L211.39,185.08 L212.14,187.19 L213.62,187.90 L215.85,187.90 L217.34,187.19 L219.57,185.08 M219.57,178.03 L219.57,187.90 M224.78,173.09 L225.52,173.80 L226.27,173.09 L225.52,172.39 L224.78,173.09 M225.52,178.03 L225.52,187.90 M231.47,173.09 L231.47,187.90 M245.60,173.09 L245.60,187.90 M245.60,180.15 L244.11,178.74 L242.63,178.03 L240.40,178.03 L238.91,178.74 L237.42,180.15 L236.68,182.26 L236.68,183.67 L237.42,185.78 L238.91,187.19 L240.40,187.90 L242.63,187.90 L244.11,187.19 L245.60,185.78 M251.55,181.56 L264.94,181.56 M270.89,173.09 L270.89,183.67 L271.63,185.78 L273.12,187.19 L275.35,187.90 L276.84,187.90 L279.07,187.19 L280.56,185.78 L281.30,183.67 L281.30,173.09 M287.25,178.03 L287.25,192.84 M287.25,180.15 L288.74,178.74 L290.22,178.03 L292.46,178.03 L293.94,178.74 L295.43,180.15 L296.17,182.26 L296.17,183.67 L295.43,185.78 L293.94,187.19 L292.46,187.90 L290.22,187.90 L288.74,187.19 L287.25,185.78 M301.38,173.09 L301.38,178.03 M307.33,173.09 L307.33,178.03" fill="none" stroke="#000" stroke-width="1.35" stroke-linecap="round" stroke-linejoin="round"/>
<path d="M274.04,555.44 L274.04,566.01 L274.69,567.88 L275.98,568.50 L276.83,568.50 M272.10,559.79 L276.63,559.79 M291.54,552.95 L279.87,572.85 M296.07,555.44 L296.07,566.01 L296.72,567.88 L298.02,568.50 L298.86,568.50 M294.13,559.79 L298.66,559.79" fill="none" stroke="#000" stroke-width="1.45" stroke-linecap="round" stroke-linejoin="round"/>
<path d="M301.17,567.34 L302.64,567.34 L302.15,570.07 L301.66,573.70 M306.54,567.34 L306.05,569.16 L305.08,570.97 L303.61,572.34 L301.66,573.70" fill="none" stroke="#000" stroke-width="1.3" stroke-linecap="round" stroke-linejoin="round"/>
<path d="M105.85,49.11 L108.62,60.30 M111.39,49.11 L108.62,60.30 M111.39,49.11 L114.16,60.30 M116.92,49.11 L114.16,60.30 M119.69,49.11 L120.25,49.64 L120.80,49.11 L120.25,48.57 L119.69,49.11 M120.25,52.84 L120.25,60.30 M125.23,49.11 L125.23,58.17 L125.78,59.77 L126.89,60.30 L127.61,60.30 M123.57,52.84 L127.44,52.84 M131.32,49.11 L131.32,60.30 M131.32,54.97 L132.98,53.37 L134.09,52.84 L135.75,52.84 L136.86,53.37 L137.41,54.97 L137.41,60.30 M158.45,51.77 L157.90,50.71 L156.79,49.64 L155.68,49.11 L153.47,49.11 L152.36,49.64 L151.25,50.71 L150.70,51.77 L150.15,53.37 L150.15,56.04 L150.70,57.63 L151.25,58.70 L152.36,59.77 L153.47,60.30 L155.68,60.30 L156.79,59.77 L157.90,58.70 L158.45,57.63 L158.45,56.04 M155.68,56.04 L158.45,56.04 M168.42,52.84 L168.42,60.30 M168.42,54.44 L167.31,53.37 L166.20,52.84 L164.54,52.84 L163.43,53.37 L162.33,54.44 L161.77,56.04 L161.77,57.10 L162.33,58.70 L163.43,59.77 L164.54,60.30 L166.20,60.30 L167.31,59.77 L168.42,58.70 M178.38,54.44 L177.83,53.37 L176.17,52.84 L174.51,52.84 L172.85,53.37 L172.29,54.44 L172.85,55.50 L173.96,56.04 L176.72,56.57 L177.83,57.10 L178.38,58.17 L178.38,58.70 L177.83,59.77 L176.17,60.30 L174.51,60.30 L172.85,59.77 L172.29,58.70 M191.12,49.11 L191.12,60.30 M191.12,49.11 L195.00,49.11 L196.66,49.64 L197.76,50.71 L198.32,51.77 L198.87,53.37 L198.87,56.04 L198.32,57.63 L197.76,58.70 L196.66,59.77 L195.00,60.30 L191.12,60.30 M202.75,52.84 L202.75,60.30 M202.75,56.04 L203.30,54.44 L204.41,53.37 L205.52,52.84 L207.18,52.84 M216.04,52.84 L216.04,60.30 M216.04,54.44 L214.93,53.37 L213.82,52.84 L212.16,52.84 L211.05,53.37 L209.95,54.44 L209.39,56.04 L209.39,57.10 L209.95,58.70 L211.05,59.77 L212.16,60.30 L213.82,60.30 L214.93,59.77 L216.04,58.70 M226.56,52.84 L226.56,61.37 L226.00,62.96 L225.45,63.50 L224.34,64.03 L222.68,64.03 L221.57,63.50 M226.56,54.44 L225.45,53.37 L224.34,52.84 L222.68,52.84 L221.57,53.37 L220.47,54.44 L219.91,56.04 L219.91,57.10 L220.47,58.70 L221.57,59.77 L222.68,60.30 L224.34,60.30 L225.45,59.77 L226.56,58.70" fill="none" stroke="#ff0000" stroke-width="1.3" stroke-linecap="round" stroke-linejoin="round"/>
<path d="M105.85,77.31 L108.62,88.50 M111.39,77.31 L108.62,88.50 M111.39,77.31 L114.16,88.50 M116.92,77.31 L114.16,88.50 M119.69,77.31 L120.25,77.84 L120.80,77.31 L120.25,76.77 L119.69,77.31 M120.25,81.04 L120.25,88.50 M125.23,77.31 L125.23,86.37 L125.78,87.97 L126.89,88.50 L127.61,88.50 M123.57,81.04 L127.44,81.04 M131.32,77.31 L131.32,88.50 M131.32,83.17 L132.98,81.57 L134.09,81.04 L135.75,81.04 L136.86,81.57 L137.41,83.17 L137.41,88.50 M144.06,81.04 L142.95,81.57 L141.84,82.64 L141.29,84.24 L141.29,85.30 L141.84,86.90 L142.95,87.97 L144.06,88.50 L145.72,88.50 L146.82,87.97 L147.93,86.90 L148.48,85.30 L148.48,84.24 L147.93,82.64 L146.82,81.57 L145.72,81.04 L144.06,81.04 M152.36,81.04 L152.36,86.37 L152.91,87.97 L154.02,88.50 L155.68,88.50 L156.79,87.97 L158.45,86.37 M158.45,81.04 L158.45,88.50 M163.43,77.31 L163.43,86.37 L163.99,87.97 L165.10,88.50 L165.82,88.50 M161.77,81.04 L165.65,81.04 M186.14,79.97 L185.58,78.91 L184.48,77.84 L183.37,77.31 L181.15,77.31 L180.05,77.84 L178.94,78.91 L178.38,79.97 L177.83,81.57 L177.83,84.24 L178.38,85.83 L178.94,86.90 L180.05,87.97 L181.15,88.50 L183.37,88.50 L184.48,87.97 L185.58,86.90 L186.14,85.83 L186.14,84.24 M183.37,84.24 L186.14,84.24 M196.10,81.04 L196.10,88.50 M196.10,82.64 L195.00,81.57 L193.89,81.04 L192.23,81.04 L191.12,81.57 L190.01,82.64 L189.46,84.24 L189.46,85.30 L190.01,86.90 L191.12,87.97 L192.23,88.50 L193.89,88.50 L195.00,87.97 L196.10,86.90 M206.07,82.64 L205.52,81.57 L203.85,81.04 L202.19,81.04 L200.53,81.57 L199.98,82.64 L200.53,83.70 L201.64,84.24 L204.41,84.77 L205.52,85.30 L206.07,86.37 L206.07,86.90 L205.52,87.97 L203.85,88.50 L202.19,88.50 L200.53,87.97 L199.98,86.90 M218.80,77.31 L218.80,88.50 M218.80,77.31 L222.68,77.31 L224.34,77.84 L225.45,78.91 L226.00,79.97 L226.56,81.57 L226.56,84.24 L226.00,85.83 L225.45,86.90 L224.34,87.97 L222.68,88.50 L218.80,88.50 M230.43,81.04 L230.43,88.50 M230.43,84.24 L230.99,82.64 L232.09,81.57 L233.20,81.04 L234.86,81.04 M243.72,81.04 L243.72,88.50 M243.72,82.64 L242.61,81.57 L241.51,81.04 L239.85,81.04 L238.74,81.57 L237.63,82.64 L237.08,84.24 L237.08,85.30 L237.63,86.90 L238.74,87.97 L239.85,88.50 L241.51,88.50 L242.61,87.97 L243.72,86.90 M254.24,81.04 L254.24,89.57 L253.69,91.17 L253.13,91.70 L252.03,92.23 L250.37,92.23 L249.26,91.70 M254.24,82.64 L253.13,81.57 L252.03,81.04 L250.37,81.04 L249.26,81.57 L248.15,82.64 L247.60,84.24 L247.60,85.30 L248.15,86.90 L249.26,87.97 L250.37,88.50 L252.03,88.50 L253.13,87.97 L254.24,86.90" fill="none" stroke="#0000ff" stroke-width="1.3" stroke-linecap="round" stroke-linejoin="round"/>
<path d="M197.42,130.39 L196.50,129.50 L195.13,129.06 L193.29,129.06 L191.92,129.50 L191.00,130.39 L191.00,131.28 L191.46,132.17 L191.92,132.62 L192.83,133.06 L195.59,133.95 L196.50,134.40 L196.96,134.84 L197.42,135.73 L197.42,137.06 L196.50,137.96 L195.13,138.40 L193.29,138.40 L191.92,137.96 L191.00,137.06 M202.46,132.17 L201.55,132.62 L200.63,133.50 L200.17,134.84 L200.17,135.73 L200.63,137.06 L201.55,137.96 L202.46,138.40 L203.84,138.40 L204.76,137.96 L205.67,137.06 L206.13,135.73 L206.13,134.84 L205.67,133.50 L204.76,132.62 L203.84,132.17 L202.46,132.17 M209.34,129.06 L209.34,138.40 M212.55,129.06 L213.01,129.50 L213.47,129.06 L213.01,128.61 L212.55,129.06 M213.01,132.17 L213.01,138.40 M221.72,129.06 L221.72,138.40 M221.72,133.50 L220.80,132.62 L219.89,132.17 L218.51,132.17 L217.59,132.62 L216.68,133.50 L216.22,134.84 L216.22,135.73 L216.68,137.06 L217.59,137.96 L218.51,138.40 L219.89,138.40 L220.80,137.96 L221.72,137.06 M232.72,129.06 L232.72,138.40 M232.72,129.06 L235.93,129.06 L237.31,129.50 L238.23,130.39 L238.68,131.28 L239.14,132.62 L239.14,134.84 L238.68,136.18 L238.23,137.06 L237.31,137.96 L235.93,138.40 L232.72,138.40 M241.89,129.06 L242.35,129.50 L242.81,129.06 L242.35,128.61 L241.89,129.06 M242.35,132.17 L242.35,138.40 M250.61,133.50 L250.15,132.62 L248.77,132.17 L247.40,132.17 L246.02,132.62 L245.56,133.50 L246.02,134.40 L246.94,134.84 L249.23,135.28 L250.15,135.73 L250.61,136.62 L250.61,137.06 L250.15,137.96 L248.77,138.40 L247.40,138.40 L246.02,137.96 L245.56,137.06 M253.81,129.06 L253.81,138.40 M258.40,132.17 L253.81,136.62 M255.65,134.84 L258.86,138.40 M268.95,129.06 L268.95,138.40 M268.95,129.06 L273.07,129.06 L274.45,129.50 L274.91,129.94 L275.36,130.84 L275.36,132.17 L274.91,133.06 L274.45,133.50 L273.07,133.95 L268.95,133.95 M278.57,132.17 L278.57,138.40 M278.57,134.84 L279.03,133.50 L279.95,132.62 L280.87,132.17 L282.24,132.17 M284.08,134.84 L289.58,134.84 L289.58,133.95 L289.12,133.06 L288.66,132.62 L287.74,132.17 L286.37,132.17 L285.45,132.62 L284.53,133.50 L284.08,134.84 L284.08,135.73 L284.53,137.06 L285.45,137.96 L286.37,138.40 L287.74,138.40 L288.66,137.96 L289.58,137.06 M297.37,133.50 L296.91,132.62 L295.54,132.17 L294.16,132.17 L292.79,132.62 L292.33,133.50 L292.79,134.40 L293.70,134.84 L296.00,135.28 L296.91,135.73 L297.37,136.62 L297.37,137.06 L296.91,137.96 L295.54,138.40 L294.16,138.40 L292.79,137.96 L292.33,137.06 M300.12,134.84 L305.62,134.84 L305.62,133.95 L305.17,133.06 L304.71,132.62 L303.79,132.17 L302.42,132.17 L301.50,132.62 L300.58,133.50 L300.12,134.84 L300.12,135.73 L300.58,137.06 L301.50,137.96 L302.42,138.40 L303.79,138.40 L304.71,137.96 L305.62,137.06 M308.83,132.17 L308.83,138.40 M308.83,133.95 L310.21,132.62 L311.13,132.17 L312.50,132.17 L313.42,132.62 L313.88,133.95 L313.88,138.40 M318.00,129.06 L318.00,136.62 L318.46,137.96 L319.38,138.40 L319.98,138.40 M316.63,132.17 L319.84,132.17 M360.20,129.06 L360.20,138.40 M360.20,129.06 L366.61,138.40 M366.61,129.06 L366.61,138.40 M372.10,132.17 L371.19,132.62 L370.27,133.50 L369.81,134.84 L369.81,135.73 L370.27,137.06 L371.19,137.96 L372.10,138.40 L373.48,138.40 L374.39,137.96 L375.31,137.06 L375.77,135.73 L375.77,134.84 L375.31,133.50 L374.39,132.62 L373.48,132.17 L372.10,132.17 M392.25,130.39 L391.33,129.50 L389.96,129.06 L388.13,129.06 L386.75,129.50 L385.84,130.39 L385.84,131.28 L386.30,132.17 L386.75,132.62 L387.67,133.06 L390.42,133.95 L391.33,134.40 L391.79,134.84 L392.25,135.73 L392.25,137.06 L391.33,137.96 L389.96,138.40 L388.13,138.40 L386.75,137.96 L385.84,137.06 M397.29,132.17 L396.37,132.62 L395.45,133.50 L395.00,134.84 L395.00,135.73 L395.45,137.06 L396.37,137.96 L397.29,138.40 L398.66,138.40 L399.57,137.96 L400.49,137.06 L400.95,135.73 L400.95,134.84 L400.49,133.50 L399.57,132.62 L398.66,132.17 L397.29,132.17 M404.15,129.06 L404.15,138.40 M407.36,129.06 L407.82,129.50 L408.27,129.06 L407.82,128.61 L407.36,129.06 M407.82,132.17 L407.82,138.40 M416.51,129.06 L416.51,138.40 M416.51,133.50 L415.60,132.62 L414.68,132.17 L413.31,132.17 L412.39,132.62 L411.48,133.50 L411.02,134.84 L411.02,135.73 L411.48,137.06 L412.39,137.96 L413.31,138.40 L414.68,138.40 L415.60,137.96 L416.51,137.06 M427.50,129.06 L427.50,138.40 M427.50,129.06 L430.71,129.06 L432.08,129.50 L433.00,130.39 L433.45,131.28 L433.91,132.62 L433.91,134.84 L433.45,136.18 L433.00,137.06 L432.08,137.96 L430.71,138.40 L427.50,138.40 M436.66,129.06 L437.12,129.50 L437.58,129.06 L437.12,128.61 L436.66,129.06 M437.12,132.17 L437.12,138.40 M445.36,133.50 L444.90,132.62 L443.53,132.17 L442.15,132.17 L440.78,132.62 L440.32,133.50 L440.78,134.40 L441.70,134.84 L443.99,135.28 L444.90,135.73 L445.36,136.62 L445.36,137.06 L444.90,137.96 L443.53,138.40 L442.15,138.40 L440.78,137.96 L440.32,137.06 M448.56,129.06 L448.56,138.40 M453.14,132.17 L448.56,136.62 M450.40,134.84 L453.60,138.40" fill="none" stroke="#000" stroke-width="1.12" stroke-linecap="round" stroke-linejoin="round"/>
<path transform="translate(23.4,485.29446494464946) rotate(-90)" d="M5.80,-13.06 L0.64,0.00 M5.80,-13.06 L10.96,0.00 M2.58,-4.35 L9.02,-4.35 M21.27,-6.84 L19.98,-8.09 L18.69,-8.71 L16.76,-8.71 L15.47,-8.09 L14.18,-6.84 L13.53,-4.98 L13.53,-3.73 L14.18,-1.87 L15.47,-0.62 L16.76,0.00 L18.69,0.00 L19.98,-0.62 L21.27,-1.87 M32.87,-6.84 L31.58,-8.09 L30.29,-8.71 L28.36,-8.71 L27.07,-8.09 L25.78,-6.84 L25.13,-4.98 L25.13,-3.73 L25.78,-1.87 L27.07,-0.62 L28.36,0.00 L30.29,0.00 L31.58,-0.62 L32.87,-1.87 M37.38,-8.71 L37.38,0.00 M37.38,-4.98 L38.02,-6.84 L39.31,-8.09 L40.60,-8.71 L42.53,-8.71 M45.11,-4.98 L52.85,-4.98 L52.85,-6.22 L52.20,-7.46 L51.56,-8.09 L50.27,-8.71 L48.33,-8.71 L47.05,-8.09 L45.76,-6.84 L45.11,-4.98 L45.11,-3.73 L45.76,-1.87 L47.05,-0.62 L48.33,0.00 L50.27,0.00 L51.56,-0.62 L52.85,-1.87 M58.00,-13.06 L58.00,-2.49 L58.65,-0.62 L59.94,0.00 L60.77,0.00 M56.07,-8.71 L60.58,-8.71 M64.45,-4.98 L72.18,-4.98 L72.18,-6.22 L71.54,-7.46 L70.89,-8.09 L69.60,-8.71 L67.67,-8.71 L66.38,-8.09 L65.09,-6.84 L64.45,-4.98 L64.45,-3.73 L65.09,-1.87 L66.38,-0.62 L67.67,0.00 L69.60,0.00 L70.89,-0.62 L72.18,-1.87 M83.78,-13.06 L83.78,0.00 M83.78,-6.84 L82.49,-8.09 L81.20,-8.71 L79.27,-8.71 L77.98,-8.09 L76.69,-6.84 L76.05,-4.98 L76.05,-3.73 L76.69,-1.87 L77.98,-0.62 L79.27,0.00 L81.20,0.00 L82.49,-0.62 L83.78,-1.87 M99.25,-13.06 L99.25,0.00 M99.25,-13.06 L107.63,-13.06 M99.25,-6.84 L104.40,-6.84 M110.85,-8.71 L110.85,0.00 M110.85,-4.98 L111.49,-6.84 L112.78,-8.09 L114.07,-8.71 L116.00,-8.71 M126.32,-8.71 L126.32,0.00 M126.32,-6.84 L125.03,-8.09 L123.74,-8.71 L121.80,-8.71 L120.51,-8.09 L119.23,-6.84 L118.58,-4.98 L118.58,-3.73 L119.23,-1.87 L120.51,-0.62 L121.80,0.00 L123.74,0.00 L125.03,-0.62 L126.32,-1.87 M138.56,-6.84 L137.27,-8.09 L135.98,-8.71 L134.05,-8.71 L132.76,-8.09 L131.47,-6.84 L130.83,-4.98 L130.83,-3.73 L131.47,-1.87 L132.76,-0.62 L134.05,0.00 L135.98,0.00 L137.27,-0.62 L138.56,-1.87 M143.72,-13.06 L143.72,-2.49 L144.36,-0.62 L145.65,0.00 L146.49,0.00 M141.78,-8.71 L146.29,-8.71 M150.16,-13.06 L150.80,-12.44 L151.45,-13.06 L150.80,-13.68 L150.16,-13.06 M150.80,-8.71 L150.80,0.00 M158.54,-8.71 L157.25,-8.09 L155.96,-6.84 L155.32,-4.98 L155.32,-3.73 L155.96,-1.87 L157.25,-0.62 L158.54,0.00 L160.47,0.00 L161.76,-0.62 L163.05,-1.87 L163.69,-3.73 L163.69,-4.98 L163.05,-6.84 L161.76,-8.09 L160.47,-8.71 L158.54,-8.71 M168.21,-8.71 L168.21,0.00 M168.21,-6.22 L170.14,-8.09 L171.43,-8.71 L173.36,-8.71 L174.65,-8.09 L175.29,-6.22 L175.29,0.00" fill="none" stroke="#000" stroke-width="1.35" stroke-linecap="round" stroke-linejoin="round"/>
<g transform="translate(28.65,196.84) rotate(-90)" fill="none" stroke="#000" stroke-width="1.35" stroke-linecap="round" stroke-linejoin="round">
<path d="M2.59,-13.06 L2.59,0.00 M2.59,-13.06 L7.78,0.00 M12.96,-13.06 L7.78,0.00 M12.96,-13.06 L12.96,0.00"/>
<circle cx="6.40" cy="-17.7" r="1.35" stroke-width="0.75"/>
<path d="M22.35,-2.49 L16.75,5.60 M16.75,-2.49 L22.35,-2.49 M16.75,5.60 L22.35,5.60"/>
<path d="M36.51,-15.55 L24.85,4.35"/>
<path d="M40.40,-13.06 L40.40,0.00 M40.40,-13.06 L45.58,0.00 M50.77,-13.06 L45.58,0.00 M50.77,-13.06 L50.77,0.00"/>
<circle cx="44.21" cy="-17.7" r="1.35" stroke-width="0.75"/>
<path d="M54.96,-3.29 L54.96,4.80 M54.96,-3.29 L58.56,-3.29 L59.76,-2.90 L60.16,-2.52 L60.56,-1.75 L60.56,-0.59 L60.16,0.18 L59.76,0.56 L58.56,0.95 L54.96,0.95 M63.36,-3.29 L63.36,4.80 M63.36,-3.29 L66.96,-3.29 L68.16,-2.90 L68.56,-2.52 L68.96,-1.75 L68.96,-0.98 L68.56,-0.21 L68.16,0.18 L66.96,0.56 L63.36,0.56 M66.16,0.56 L68.96,4.80 M72.56,4.42 L72.16,4.80 L71.76,4.42 L72.16,4.03 L72.56,4.42 L72.56,5.18 L72.16,5.96 L71.76,6.34 M75.36,-3.29 L75.76,-2.90 L76.16,-3.29 L75.76,-3.67 L75.36,-3.29 M75.76,-0.59 L75.76,4.80 M78.96,-0.59 L78.96,4.80 M78.96,0.95 L80.16,-0.21 L80.96,-0.59 L82.16,-0.59 L82.96,-0.21 L83.36,0.95 L83.36,4.80"/>
</g>
</svg></body></html>
